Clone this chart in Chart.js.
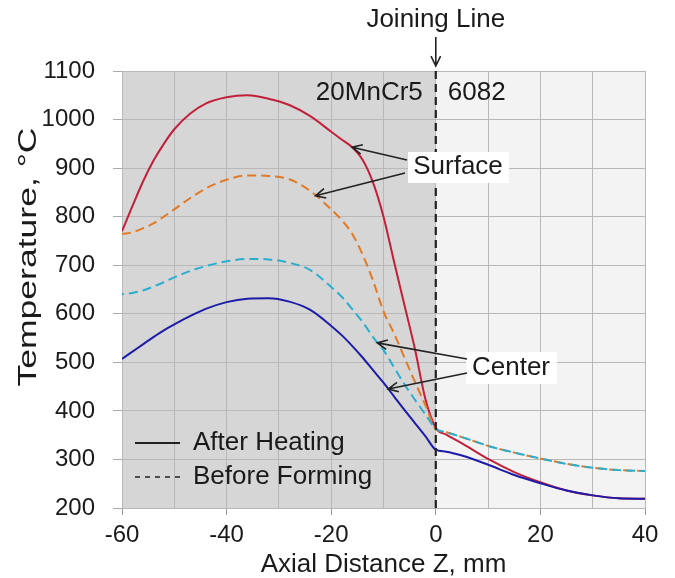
<!DOCTYPE html>
<html>
<head>
<meta charset="utf-8">
<script src="https://cdn.jsdelivr.net/npm/chart.js@4.4.1/dist/chart.umd.min.js"></script>
<style>
  html, body { margin: 0; padding: 0; background: #fff; }
</style>
</head>
<body>
<canvas id="myChart" width="675" height="578"></canvas>
<script>
// axial positions, mm
const zValues = [-60, -58, -56, -54, -52, -50, -47, -44, -40, -36, -32, -28, -24, -20, -18, -16, -14, -12, -10, -8, -6, -4, -2, 0, 2, 5, 10, 15, 20, 25, 30, 35, 40];

// temperatures, °C
const surfaceAfterHeating = [770, 822, 872, 915, 950, 980, 1012, 1033, 1046, 1050, 1043, 1030, 1007, 975, 959, 943, 917, 870, 800, 708, 618, 528, 425, 365, 351, 333, 301, 274, 253, 236, 226, 220, 219];
const surfaceBeforeForming = [764, 768, 776, 786, 800, 815, 838, 858, 876, 885, 884, 877, 853, 815, 793, 765, 722, 668, 605, 560, 510, 460, 412, 363, 356, 346, 328, 314, 302, 291, 283, 278, 276];
const centerBeforeForming = [640, 643, 648, 656, 665, 675, 688, 698, 708, 713, 712, 705, 690, 655, 635, 610, 583, 552, 525, 490, 455, 423, 393, 363, 356, 346, 328, 314, 302, 291, 283, 278, 276];
const centerAfterHeating = [507, 522, 537, 552, 566, 578, 595, 610, 624, 631, 632, 625, 608, 575, 556, 534, 510, 484, 458, 430, 402, 375, 348, 320, 316, 308, 289, 268, 251, 236, 226, 220, 219];

const xTickLabels = [-60, -40, -20, 0, 20, 40];

const FONT = '"Liberation Sans", Arial, sans-serif';
const TEXT = '#1a1a1a';

const pts = arr => zValues.map((z, i) => ({ x: z, y: arr[i] }));

function arrow(ctx, x1, y1, x2, y2) {
  const a = Math.atan2(y2 - y1, x2 - x1);
  const h = 11, s = 0.45;
  ctx.beginPath();
  ctx.moveTo(x1, y1);
  ctx.lineTo(x2, y2);
  ctx.moveTo(x2 - h * Math.cos(a - s), y2 - h * Math.sin(a - s));
  ctx.lineTo(x2, y2);
  ctx.lineTo(x2 - h * Math.cos(a + s), y2 - h * Math.sin(a + s));
  ctx.stroke();
}

const decor = {
  id: 'decor',
  beforeDraw(chart) {
    const { ctx, chartArea: a, scales: { x } } = chart;
    const x0 = x.getPixelForValue(0);
    ctx.save();
    ctx.fillStyle = '#d6d6d6';
    ctx.fillRect(a.left, a.top, x0 - a.left, a.bottom - a.top);
    ctx.fillStyle = '#f3f3f3';
    ctx.fillRect(x0, a.top, a.right - x0, a.bottom - a.top);
    ctx.restore();
  },
  afterDatasetsDraw(chart) {
    const { ctx, chartArea: a, scales: { x, y } } = chart;
    const px = v => x.getPixelForValue(v);
    const py = v => y.getPixelForValue(v);
    const x0 = px(0);
    ctx.save();

    // joining line
    ctx.strokeStyle = '#222';
    ctx.lineWidth = 2.2;
    ctx.setLineDash([8, 5]);
    ctx.beginPath();
    ctx.moveTo(x0, a.top);
    ctx.lineTo(x0, a.bottom);
    ctx.stroke();
    ctx.setLineDash([]);
    ctx.lineWidth = 1.6;
    arrow(ctx, x0, 37, x0, 66);

    ctx.fillStyle = TEXT;
    ctx.font = '26px ' + FONT;
    ctx.textBaseline = 'middle';
    ctx.textAlign = 'center';
    ctx.fillText('Joining Line', x0, 20);
    ctx.textAlign = 'right';
    ctx.fillText('20MnCr5', x0 - 13, 93);
    ctx.textAlign = 'left';
    ctx.fillText('6082', x0 + 12, 93);

    // label boxes
    ctx.fillStyle = '#fff';
    ctx.fillRect(408, 152, 101, 31);
    ctx.fillRect(466, 352, 91, 32);
    ctx.fillStyle = TEXT;
    ctx.textAlign = 'center';
    ctx.fillText('Surface', 458, 167);
    ctx.fillText('Center', 511, 368);

    ctx.strokeStyle = '#222';
    ctx.lineWidth = 1.6;
    arrow(ctx, 407, 160, px(-16), py(943));
    arrow(ctx, 405, 173, px(-23), py(843));
    arrow(ctx, 467, 359, px(-11.2), py(540));
    arrow(ctx, 467, 373, px(-9.1), py(445));

    // legend
    ctx.lineWidth = 1.8;
    ctx.beginPath();
    ctx.moveTo(135, 443);
    ctx.lineTo(180, 443);
    ctx.stroke();
    ctx.lineWidth = 1.4;
    ctx.setLineDash([5, 5]);
    ctx.beginPath();
    ctx.moveTo(135, 477);
    ctx.lineTo(181, 477);
    ctx.stroke();
    ctx.setLineDash([]);
    ctx.textAlign = 'left';
    ctx.fillText('After Heating', 193, 443);
    ctx.fillText('Before Forming', 193, 477);

    // axis titles
    ctx.textAlign = 'center';
    ctx.fillText('Axial Distance Z, mm', (a.left + a.right) / 2, 565);
    ctx.font = '25px ' + FONT;
    ctx.translate(29, 257);
    ctx.rotate(-Math.PI / 2);
    const w = ctx.measureText('Temperature, °C').width;
    ctx.scale(259 / w, 1);
    ctx.fillText('Temperature, °C', 0, 0);
    ctx.restore();
  }
};

const line = (data, color, dashed, offset) => ({
  data: pts(data),
  borderColor: color,
  borderWidth: 2,
  borderDash: dashed ? [9, 5] : [],
  borderDashOffset: offset || 0,
  pointRadius: 0,
  fill: false,
  cubicInterpolationMode: 'monotone'
});

new Chart(document.getElementById('myChart'), {
  type: 'line',
  data: {
    datasets: [
      line(centerAfterHeating, '#1c1ca8', false),
      line(centerBeforeForming, '#2aaed0', true, 7),
      line(surfaceBeforeForming, '#e07a26', true),
      line(surfaceAfterHeating, '#c2203a', false)
    ]
  },
  options: {
    responsive: false,
    animation: false,
    devicePixelRatio: 1,
    layout: { padding: { top: 71, right: 30, left: 0, bottom: 0 } },
    plugins: { legend: { display: false }, tooltip: { enabled: false } },
    scales: {
      x: {
        type: 'linear',
        min: -60,
        max: 40,
        afterFit: s => { s.height = 70; },
        ticks: {
          stepSize: 10,
          autoSkip: false,
          maxRotation: 0,
          padding: 6,
          color: TEXT,
          font: { size: 24, family: FONT },
          callback: v => xTickLabels.includes(v) ? String(v) : ''
        },
        grid: {
          color: '#b8b8b8',
          tickLength: 7,
          tickColor: c => xTickLabels.includes(c.tick.value) ? '#999' : 'rgba(0,0,0,0)'
        },
        border: { color: '#b8b8b8' }
      },
      y: {
        min: 200,
        max: 1100,
        afterFit: s => { s.width = 122; },
        ticks: {
          stepSize: 100,
          padding: 18,
          color: TEXT,
          font: { size: 24, family: FONT },
          callback: v => String(v)
        },
        grid: { color: '#b8b8b8', tickLength: 9, tickColor: '#aaa' },
        border: { color: '#b8b8b8' }
      }
    }
  },
  plugins: [decor]
});
</script>
</body>
</html>
